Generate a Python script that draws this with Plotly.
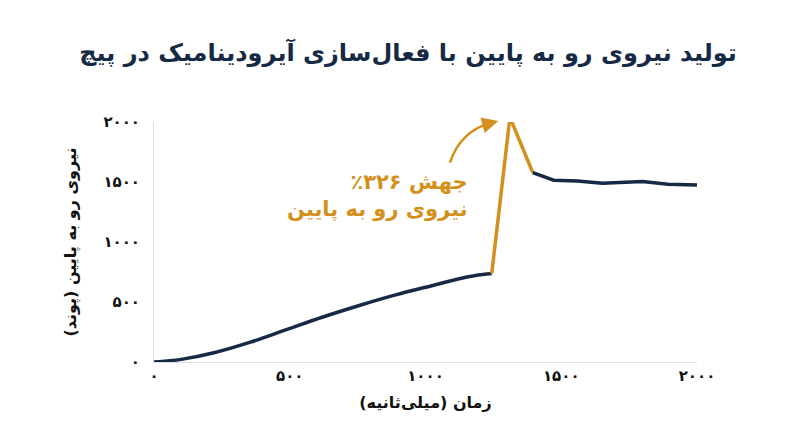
import plotly.graph_objects as go

x_pre = [0, 100, 221, 355, 488, 622, 756, 890, 1023, 1157, 1244]
y_pre = [0, 22, 77, 165, 270, 375, 471, 559, 636, 711, 738]
x_jump = [1244, 1311, 1395]
y_jump = [738, 2039, 1579]
x_post = [1395, 1472, 1559, 1652, 1799, 1893, 2000]
y_post = [1579, 1515, 1509, 1490, 1504, 1482, 1474]
tick_vals = [0, 500, 1000, 1500, 2000]
tick_text = ["۰", "۵۰۰", "۱۰۰۰", "۱۵۰۰", "۲۰۰۰"]

NAVY = "#172a45"
GOLD = "#d4901c"
F = "DejaVu Sans"

fig = go.Figure()
fig.add_trace(go.Scatter(x=x_pre, y=y_pre, mode="lines", line=dict(color=NAVY, width=3.5, shape="spline"), cliponaxis=False))
fig.add_trace(go.Scatter(x=x_jump, y=y_jump, mode="lines", line=dict(color=GOLD, width=3.5), cliponaxis=False))
fig.add_trace(go.Scatter(x=x_post, y=y_post, mode="lines", line=dict(color=NAVY, width=3.5), cliponaxis=False))

fig.add_shape(type="path", path="M 1090 1661 Q 1130 1930 1245 1995", line=dict(color=GOLD, width=2.5), xref="x", yref="y")
fig.add_annotation(x=1268, y=2008, ax=1235, ay=1988, xref="x", yref="y", axref="x", ayref="y",
                   text="", showarrow=True, arrowhead=2, arrowsize=1.3, arrowwidth=2.5, arrowcolor=GOLD)
fig.add_annotation(x=1164, y=1390, xref="x", yref="y", xanchor="right", align="right", showarrow=False,
                   text="<b>\u202bجهش ۳۲۶٪\u202c<br>نیروی رو به پایین</b>", font=dict(family=F, size=21, color=GOLD))

tick_bold = ["<b>%s</b>" % t for t in tick_text]
fig.update_layout(
    width=800, height=447, paper_bgcolor="white", plot_bgcolor="white", showlegend=False,
    margin=dict(l=146, r=111, t=114, b=93),
    title=dict(text="<b>تولید نیروی رو به پایین با فعال‌سازی آیرودینامیک در پیچ</b>", x=0.5, xanchor="center", y=0.9,
               yanchor="middle", font=dict(family=F, size=24, color=NAVY)),
    xaxis=dict(range=[0, 2000], tickvals=tick_vals, ticktext=tick_bold, showgrid=False, zeroline=False,
               showline=True, linecolor="#dddddd", ticks="", tickfont=dict(family=F, size=15, color="#111"),
               title=dict(text="<b>زمان (میلی‌ثانیه)</b>", font=dict(family=F, size=16, color="#111"), standoff=12)),
    yaxis=dict(range=[0, 2000], tickvals=tick_vals, ticktext=tick_bold, showgrid=False, zeroline=False,
               showline=True, linecolor="#dddddd", ticks="", ticklabelstandoff=10, tickfont=dict(family=F, size=15, color="#111"),
               title=dict(text="<b>نیروی رو به پایین (پوند)</b>", font=dict(family=F, size=16, color="#111"), standoff=22)),
)
fig.write_html("out.html")
